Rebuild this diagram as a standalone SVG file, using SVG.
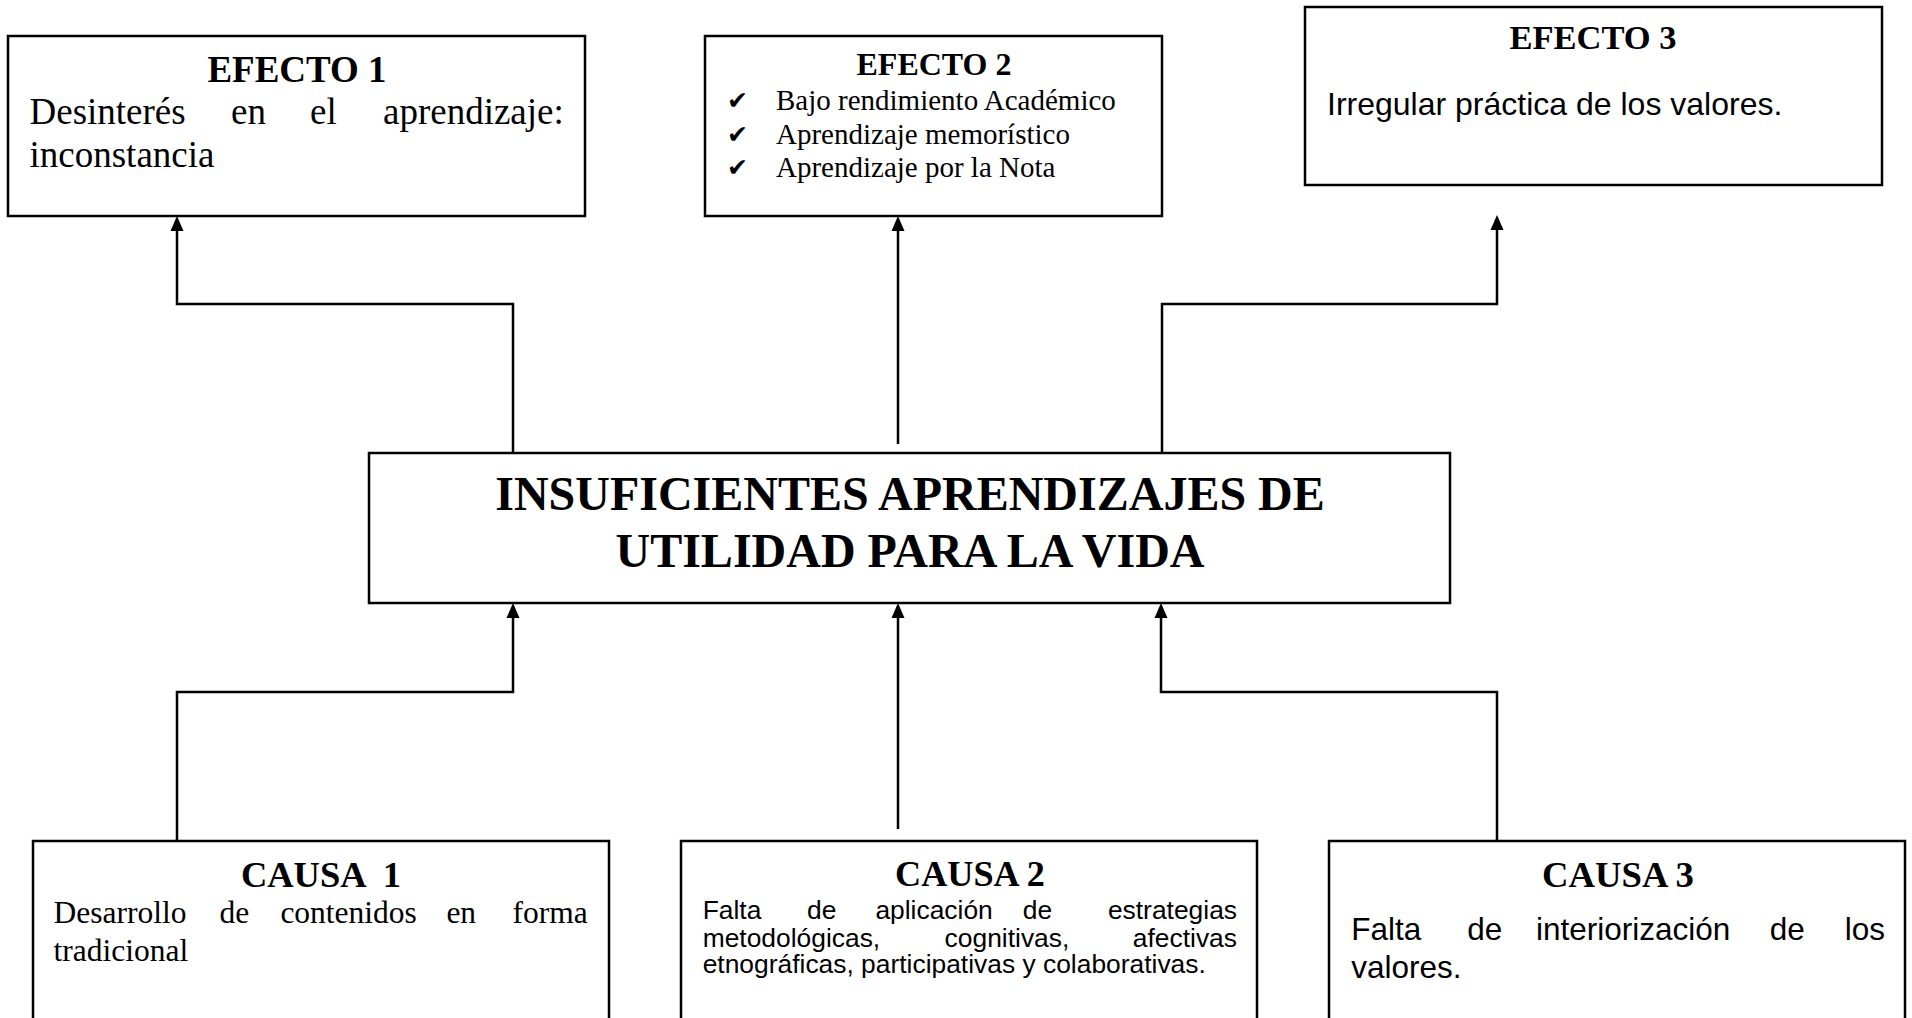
<svg xmlns="http://www.w3.org/2000/svg" width="1912" height="1018" viewBox="0 0 1912 1018">
<style>
.box{fill:#fff;stroke:#000;stroke-width:2.5}
.ln{fill:none;stroke:#000;stroke-width:2.5}
.tb{font-family:"Liberation Serif","Times New Roman",serif;font-weight:bold;fill:#000}
.tr{font-family:"Liberation Serif","Times New Roman",serif;fill:#000}
.ar{font-family:"Liberation Sans",Arial,sans-serif;fill:#000}
.ck{font-family:"DejaVu Sans",sans-serif;fill:#000}
</style>
<defs>
<marker id="ah" markerUnits="userSpaceOnUse" markerWidth="16" markerHeight="14" viewBox="0 -7 16 14" refX="0" refY="0" orient="auto">
<path d="M0,-6.5 L15,0 L0,6.5 z" fill="#000"/>
</marker>
</defs>
<rect width="1912" height="1018" fill="#fff"/>
<g id="connectors">
<polyline class="ln" points="513,453 513,304 177,304 177,231" marker-end="url(#ah)"/>
<polyline class="ln" points="898,444 898,231" marker-end="url(#ah)"/>
<polyline class="ln" points="1162,453 1162,304 1497,304 1497,230" marker-end="url(#ah)"/>
<polyline class="ln" points="177,841 177,692 513,692 513,618" marker-end="url(#ah)"/>
<polyline class="ln" points="898,829 898,618" marker-end="url(#ah)"/>
<polyline class="ln" points="1497,841 1497,692 1161,692 1161,618" marker-end="url(#ah)"/>
</g>
<g id="efecto1">
<rect class="box" x="8" y="36" width="577" height="180"/>
<text class="tb" x="297" y="82" font-size="37" text-anchor="middle">EFECTO 1</text>
<text class="tr" font-size="37" y="124"><tspan x="29.5">Desinterés</tspan><tspan x="231">en</tspan><tspan x="310">el</tspan><tspan x="383">aprendizaje:</tspan></text>
<text class="tr" font-size="37" x="29.5" y="167">inconstancia</text>
</g>
<g id="efecto2">
<rect class="box" x="705" y="36" width="457" height="180"/>
<text class="tb" x="934" y="75" font-size="32" text-anchor="middle">EFECTO 2</text>
<text class="ck" x="727" y="109" font-size="25">✔</text>
<text class="ck" x="727" y="143" font-size="25">✔</text>
<text class="ck" x="727" y="176" font-size="25">✔</text>
<text class="tr" x="776" y="110" font-size="29">Bajo rendimiento Académico</text>
<text class="tr" x="776" y="144" font-size="29">Aprendizaje memorístico</text>
<text class="tr" x="776" y="177" font-size="29">Aprendizaje por la Nota</text>
</g>
<g id="efecto3">
<rect class="box" x="1305" y="7" width="577" height="178"/>
<text class="tb" x="1593" y="49" font-size="34.5" text-anchor="middle">EFECTO 3</text>
<text class="ar" x="1327" y="115" font-size="32">Irregular práctica de los valores.</text>
</g>
<g id="problema">
<rect class="box" x="369" y="453" width="1081" height="150"/>
<text class="tb" x="910" y="510" font-size="48" text-anchor="middle">INSUFICIENTES APRENDIZAJES DE</text>
<text class="tb" x="910" y="567" font-size="48" text-anchor="middle">UTILIDAD PARA LA VIDA</text>
</g>
<g id="causa1">
<rect class="box" x="33" y="841" width="576" height="200"/>
<text class="tb" x="321" y="887" font-size="36.5" text-anchor="middle" xml:space="preserve">CAUSA  1</text>
<text class="tr" font-size="31.5" y="923"><tspan x="53.6">Desarrollo</tspan><tspan x="219.6">de</tspan><tspan x="280.4">contenidos</tspan><tspan x="446.4">en</tspan><tspan x="512.5">forma</tspan></text>
<text class="tr" font-size="31.5" x="53.6" y="961">tradicional</text>
</g>
<g id="causa2">
<rect class="box" x="681" y="841" width="576" height="200"/>
<text class="tb" x="970" y="886" font-size="36.2" text-anchor="middle">CAUSA 2</text>
<text class="ar" font-size="26.4" y="919"><tspan x="702.7">Falta</tspan><tspan x="807">de</tspan><tspan x="875.4">aplicación</tspan><tspan x="1022.8">de</tspan><tspan x="1237" text-anchor="end">estrategias</tspan></text>
<text class="ar" font-size="26.4" y="946.5"><tspan x="702.7">metodológicas,</tspan><tspan x="944.6">cognitivas,</tspan><tspan x="1237" text-anchor="end">afectivas</tspan></text>
<text class="ar" font-size="26.4" x="702.7" y="973">etnográficas, participativas y colaborativas.</text>
</g>
<g id="causa3">
<rect class="box" x="1329" y="841" width="576" height="200"/>
<text class="tb" x="1618" y="887" font-size="36.7" text-anchor="middle">CAUSA 3</text>
<text class="ar" font-size="31.5" y="940"><tspan x="1351.3">Falta</tspan><tspan x="1467.3">de</tspan><tspan x="1536">interiorización</tspan><tspan x="1769.8">de</tspan><tspan x="1885" text-anchor="end">los</tspan></text>
<text class="ar" font-size="31.5" x="1351.3" y="978">valores.</text>
</g>
</svg>
